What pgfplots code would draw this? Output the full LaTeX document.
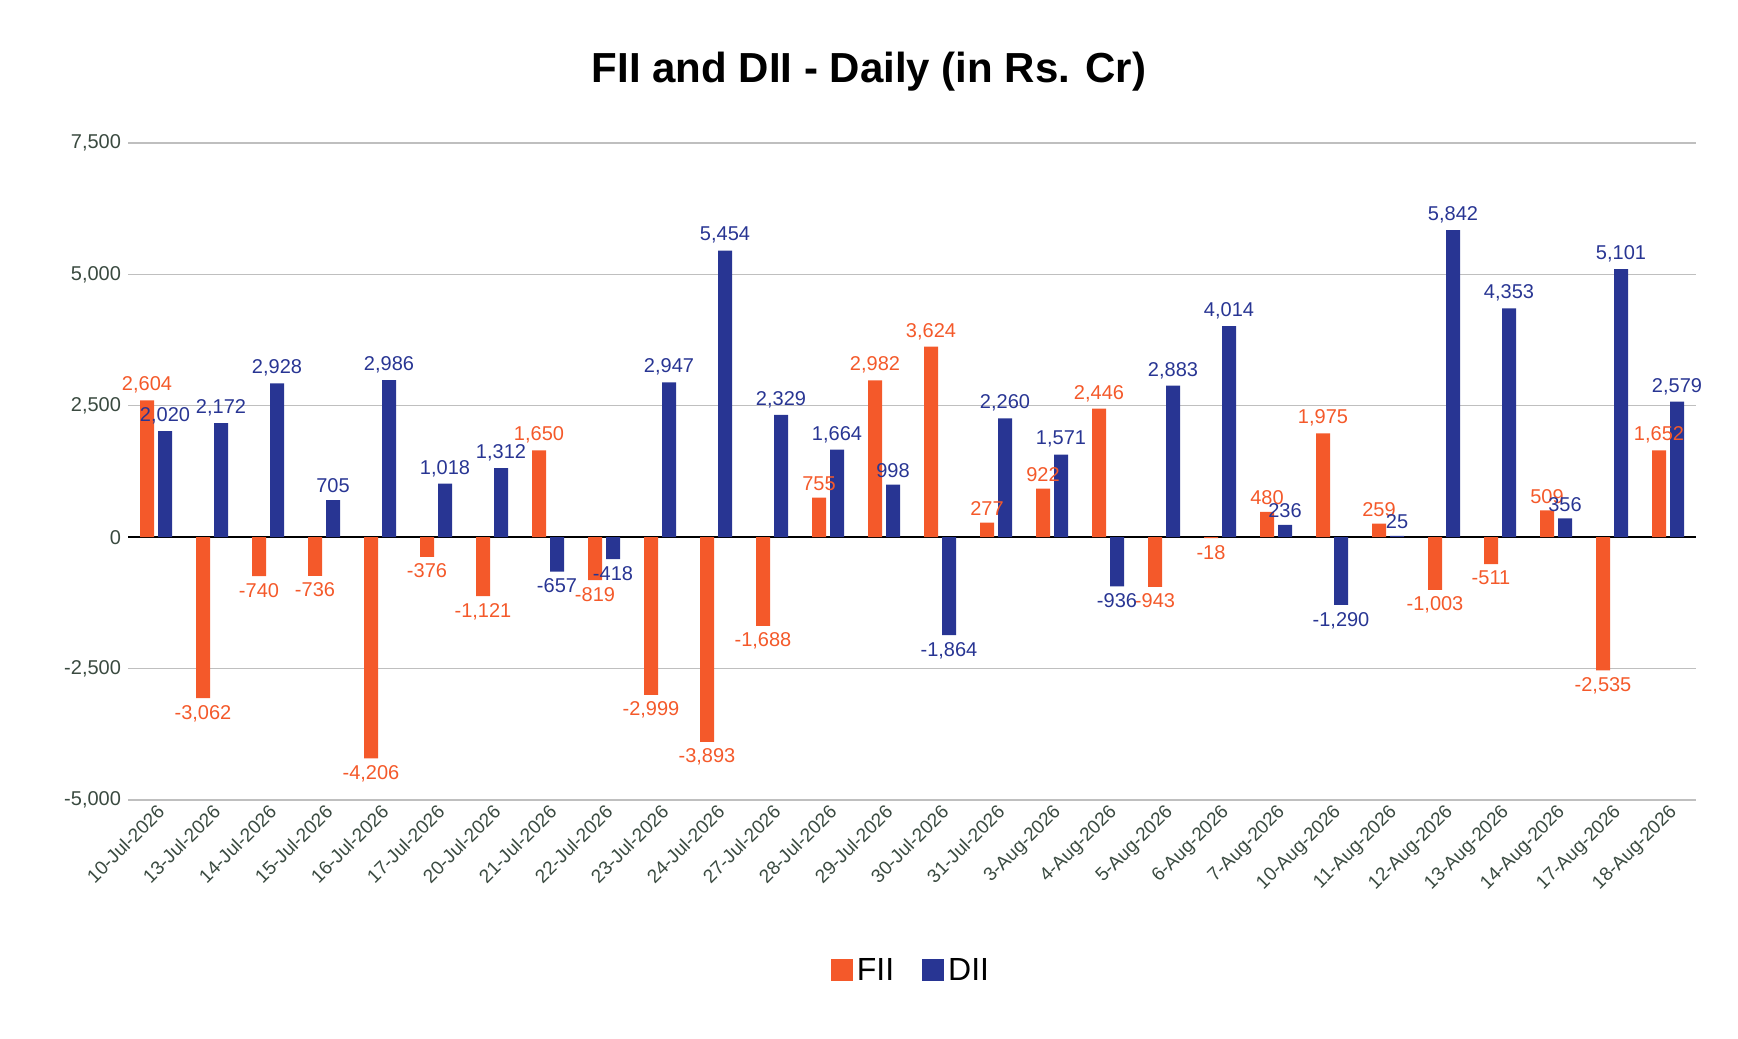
\documentclass[border=0pt]{standalone}
\usepackage{pgfplots}
\pgfplotsset{compat=1.18}
\usepackage{fontspec}
\setmainfont{Liberation Sans}
\definecolor{fii}{HTML}{F4592A}
\definecolor{dii}{HTML}{283593}
\definecolor{tk}{HTML}{3A4A40}
\begin{document}
\begin{tikzpicture}
\useasboundingbox (0pt,0pt) rectangle (869pt,519pt);
\node[font=\fontsize{21}{24}\selectfont\bfseries] at (434.5pt,483pt) {FII and DII - Daily (in Rs. Cr)};
\begin{axis}[at={(64pt,119pt)},anchor=south west,scale only axis,width=784pt,height=328.5pt,
  ybar, bar width=7pt,
  xmin=-0.5,xmax=27.5,ymin=-5000,ymax=7500,
  ytick={-5000,-2500,0,2500,5000,7500},
  xtick={0,...,27},
  xticklabels={10-Jul-2026,13-Jul-2026,14-Jul-2026,15-Jul-2026,16-Jul-2026,17-Jul-2026,20-Jul-2026,21-Jul-2026,22-Jul-2026,23-Jul-2026,24-Jul-2026,27-Jul-2026,28-Jul-2026,29-Jul-2026,30-Jul-2026,31-Jul-2026,3-Aug-2026,4-Aug-2026,5-Aug-2026,6-Aug-2026,7-Aug-2026,10-Aug-2026,11-Aug-2026,12-Aug-2026,13-Aug-2026,14-Aug-2026,17-Aug-2026,18-Aug-2026},
  x tick label style={rotate=45,anchor=north east,font=\fontsize{9.5}{11}\selectfont,text=tk,inner sep=1pt},
  y tick label style={font=\fontsize{10}{12}\selectfont,text=tk},
  /pgf/number format/assume math mode=true,
  /pgf/number format/.cd,1000 sep={,},fixed,/pgfplots/.cd,
  axis line style={draw=none},
  major tick length=0pt,
  ymajorgrids, grid style={gray!50,line width=0.6pt},
  extra y ticks={0}, extra y tick labels={}, extra y tick style={grid style={black,line width=0.8pt}},
  nodes near coords,
  nodes near coords style={font=\fontsize{10}{12}\selectfont,/pgf/number format/assume math mode=true},
  legend style={at={(0.5,-0.26)},anchor=center,draw=none,legend columns=2,font=\fontsize{16}{18}\selectfont,
    /tikz/every even column/.append style={column sep=12pt}},
  legend image code/.code={\fill[#1] (0pt,-5pt) rectangle (11pt,6pt);},
  clip=false,
]
\addplot[fill=fii,draw=none,bar shift=-4.5pt,nodes near coords style={text=fii}] coordinates {
(0,2604)(1,-3062)(2,-740)(3,-736)(4,-4206)(5,-376)(6,-1121)(7,1650)(8,-819)(9,-2999)(10,-3893)(11,-1688)(12,755)(13,2982)(14,3624)(15,277)(16,922)(17,2446)(18,-943)(19,-18)(20,480)(21,1975)(22,259)(23,-1003)(24,-511)(25,509)(26,-2535)(27,1652)};
\addplot[fill=dii,draw=none,bar shift=4.5pt,nodes near coords style={text=dii}] coordinates {
(0,2020)(1,2172)(2,2928)(3,705)(4,2986)(5,1018)(6,1312)(7,-657)(8,-418)(9,2947)(10,5454)(11,2329)(12,1664)(13,998)(14,-1864)(15,2260)(16,1571)(17,-936)(18,2883)(19,4014)(20,236)(21,-1290)(22,25)(23,5842)(24,4353)(25,356)(26,5101)(27,2579)};
\legend{FII,DII}
\end{axis}
\end{tikzpicture}
\end{document}
